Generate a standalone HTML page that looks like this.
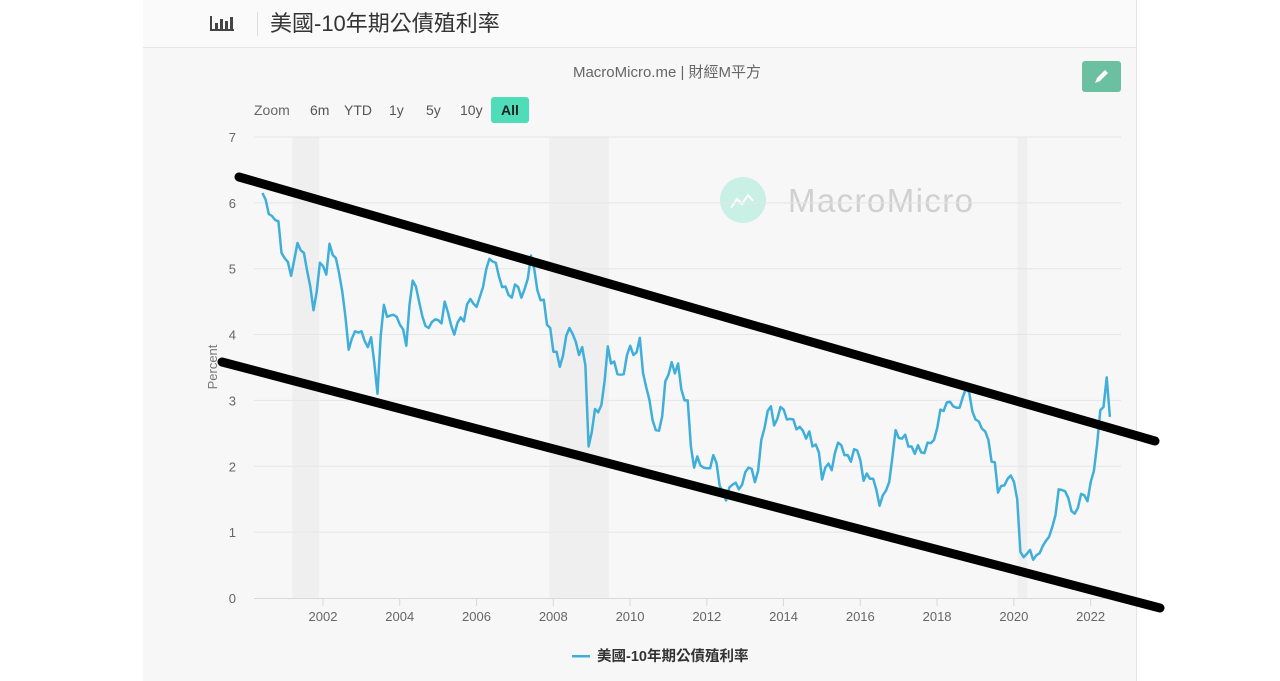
<!DOCTYPE html>
<html><head><meta charset="utf-8"><style>
html,body{margin:0;padding:0;width:1280px;height:681px;background:#fff;overflow:hidden;font-family:"Liberation Sans","Noto Sans CJK TC",sans-serif}
#card{position:absolute;left:143px;top:0;width:993px;height:681px;background:#f7f7f7;border-right:1px solid #e4e4e4}
#hdr{position:absolute;left:0;top:0;width:993px;height:47px;background:#fafafa;border-bottom:1px solid #e6e6e6}
svg{position:absolute;left:0;top:0}
</style></head><body>
<div id="card">
<div id="hdr"></div>
</div>
<svg width="1280" height="681">
<g fill="#444">
<rect x="210" y="16" width="2" height="15"/><rect x="210" y="29" width="24" height="2"/>
<rect x="215" y="23" width="3" height="6"/><rect x="220" y="19" width="3" height="10"/><rect x="225" y="21" width="3" height="8"/><rect x="230" y="17" width="3" height="12"/>
</g>
<rect x="257" y="12" width="1" height="24" fill="#ddd"/>
<text x="270" y="31" font-size="22" fill="#333">美國-10年期公債殖利率</text>
<text x="667" y="77" font-size="15" fill="#666" text-anchor="middle">MacroMicro.me | 財經M平方</text>
<g>
<rect x="1082" y="61" width="39" height="31" rx="3" fill="#6cc0a2"/>
<path d="M1095 83 l2 -5 l8 -8 l3 3 l-8 8 z" fill="#fff"/>
</g>
<g font-size="14" fill="#555">
<text x="254" y="115" fill="#666">Zoom</text>
<text x="310" y="115">6m</text>
<text x="344" y="115">YTD</text>
<text x="389" y="115">1y</text>
<text x="426" y="115">5y</text>
<text x="460" y="115">10y</text>
<rect x="491" y="97" width="38" height="26" rx="3" fill="#4fdcb8"/>
<text x="510" y="115" text-anchor="middle" font-weight="bold" fill="#222">All</text>
</g>
<g>
<circle cx="743" cy="200" r="23" fill="#c8f0e4"/>
<path d="M731 208 l6 -9 l5 5 l6 -9 l5 6" stroke="#fff" stroke-width="2" fill="none"/>
<text x="788" y="212" font-size="33" fill="#d0d0d0" textLength="185">MacroMicro</text>
</g>
<g id="rec"></g><g id="grid"></g><g id="axes"></g>
<path id="line" fill="none" stroke="#3fafda" stroke-width="2.5" stroke-linejoin="round"/>
<text transform="translate(217,367) rotate(-90)" font-size="13" fill="#777" text-anchor="middle">Percent</text>
<g>
<rect x="572" y="655" width="18" height="2.5" fill="#3fafda"/>
<text x="597" y="661" font-size="14.5" font-weight="bold" fill="#333">美國-10年期公債殖利率</text>
</g>
<line x1="239" y1="177" x2="1155" y2="441" stroke="#000" stroke-width="9" stroke-linecap="round"/>
<line x1="222" y1="362" x2="1160" y2="608" stroke="#000" stroke-width="9" stroke-linecap="round"/>
</svg>
<script>
const startYear = 2000.42;
const yields = [
6.15,6.05,5.83,5.80,5.74,5.72,5.24,
5.16,5.10,4.89,5.14,5.39,5.28,5.24,4.97,4.73,4.37,4.65,5.09,
5.04,4.91,5.38,5.21,5.16,4.93,4.65,4.26,3.77,3.94,4.05,4.03,
4.05,3.90,3.81,3.96,3.57,3.10,3.98,4.45,4.27,4.29,4.30,4.27,
4.15,4.08,3.83,4.45,4.82,4.73,4.50,4.28,4.13,4.10,4.19,4.23,
4.22,4.17,4.50,4.34,4.14,4.00,4.18,4.26,4.20,4.46,4.54,4.47,
4.42,4.57,4.72,4.99,5.15,5.11,5.09,4.88,4.72,4.73,4.60,4.56,
4.76,4.72,4.56,4.69,4.85,5.20,5.00,4.67,4.52,4.53,4.15,4.10,
3.74,3.74,3.51,3.68,3.98,4.10,4.01,3.89,3.69,3.81,3.53,2.30,
2.52,2.87,2.82,2.93,3.29,3.82,3.56,3.59,3.40,3.39,3.40,3.69,
3.83,3.69,3.73,3.95,3.42,3.20,3.01,2.70,2.55,2.54,2.76,3.29,
3.39,3.58,3.41,3.56,3.17,3.00,3.00,2.30,1.98,2.15,2.01,1.98,
1.97,1.97,2.17,2.05,1.70,1.62,1.48,1.68,1.72,1.75,1.65,1.72,
1.91,1.98,1.96,1.76,1.93,2.40,2.58,2.84,2.91,2.62,2.72,2.90,
2.86,2.71,2.72,2.71,2.56,2.60,2.54,2.42,2.53,2.30,2.33,2.21,
1.80,1.98,2.04,1.94,2.20,2.36,2.32,2.17,2.17,2.07,2.26,2.24,
2.09,1.78,1.89,1.81,1.81,1.64,1.40,1.56,1.63,1.76,2.14,2.55,
2.43,2.42,2.48,2.30,2.30,2.19,2.32,2.21,2.20,2.36,2.35,2.40,
2.58,2.86,2.84,2.97,2.98,2.91,2.89,2.89,3.05,3.18,3.12,2.83,
2.71,2.68,2.57,2.53,2.40,2.07,2.06,1.60,1.70,1.71,1.81,1.86,
1.76,1.50,0.70,0.62,0.67,0.73,0.58,0.65,0.68,0.79,0.87,0.93,
1.08,1.26,1.65,1.64,1.62,1.52,1.32,1.28,1.37,1.58,1.56,1.47,
1.76,1.93,2.33,2.85,2.90,3.35,2.75
];
const yTicks = [0,1,2,3,4,5,6,7];
const xTicks = [2002,2004,2006,2008,2010,2012,2014,2016,2018,2020,2022];
const recessions = [[2001.2,2001.9],[2007.9,2009.45],[2020.1,2020.35]];
const NS='http://www.w3.org/2000/svg';
const X0=254,X1=1121;
function xs(yr){return 323+(yr-2002)*38.38;}
function ys(v){return 598-v*65.86;}
function mk(tag,attrs,parent,txt){const e=document.createElementNS(NS,tag);for(const k in attrs)e.setAttribute(k,attrs[k]);if(txt!==undefined)e.textContent=txt;document.getElementById(parent).appendChild(e);return e;}
recessions.forEach(r=>{
 const e=mk('rect',{x:xs(r[0]),y:ys(7),width:xs(r[1])-xs(r[0]),height:ys(0)-ys(7),fill:'#efefef'},'rec');
 
 
});
yTicks.forEach(t=>{
 if(t>0){const g=mk('line',{x1:X0,x2:X1,y1:ys(t),y2:ys(t),stroke:'#e6e6e6','stroke-width':1},'grid');
 
 }
 const l=mk('text',{x:236,y:ys(t)+5,'font-size':13,fill:'#666','text-anchor':'end'},'axes',String(t));
 
 
});
const ax=mk('line',{x1:X0,x2:X1,y1:ys(0)+0.5,y2:ys(0)+0.5,stroke:'#d8d8d8','stroke-width':1},'axes');


xTicks.forEach(t=>{
 const tk=mk('line',{x1:xs(t),x2:xs(t),y1:ys(0),y2:ys(0)+8,stroke:'#d8d8d8'},'axes');
 
 
 const l=mk('text',{x:xs(t),y:621,'font-size':13,fill:'#666','text-anchor':'middle'},'axes',String(t));
 
 
});
let d='';
yields.forEach((v,i)=>{d+=(i?'L':'M')+xs(startYear+i/12).toFixed(1)+' '+ys(v).toFixed(1);});
document.getElementById('line').setAttribute('d',d);
</script>
</body></html>
